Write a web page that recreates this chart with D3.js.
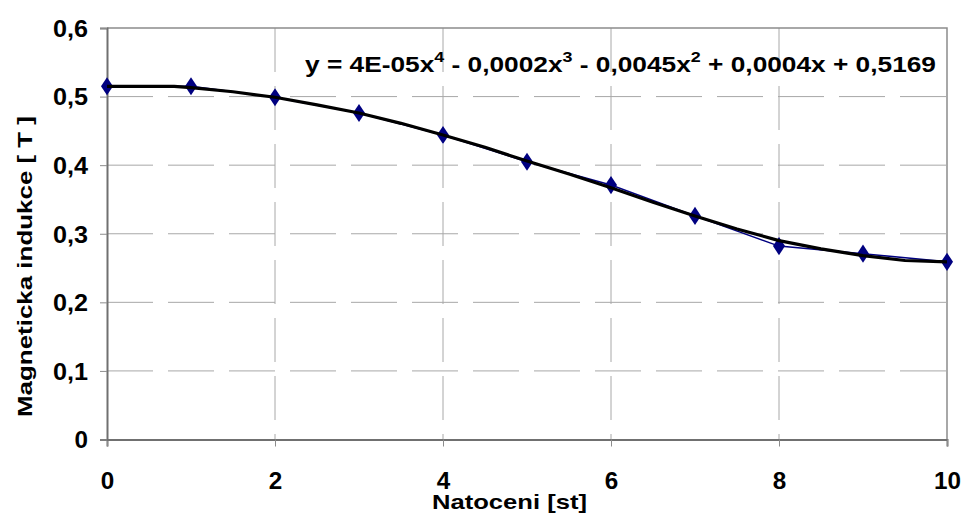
<!DOCTYPE html>
<html>
<head>
<meta charset="utf-8">
<script src="https://cdn.jsdelivr.net/npm/d3@7"></script>
<style>
  body { margin: 0; background: #fff; }
  text { font-family: "Liberation Sans", Arial, sans-serif; font-weight: bold; fill: #000; }
</style>
</head>
<body>
<div id="container"></div>
<script>
"use strict";

const width = 961;
const height = 518;

// measured values
const angles = [0, 1, 2, 3, 4, 5, 6, 7, 8, 9, 10];
const induction = [0.515, 0.515, 0.499, 0.476, 0.444, 0.405, 0.371, 0.326, 0.282, 0.271, 0.259];

// polynomial trendline
const trendX = [0, 0.5, 0.8, 1, 1.5, 2, 2.5, 3, 3.5, 4, 4.5, 5, 5.5, 6, 6.5, 7, 7.5, 8, 8.5, 9, 9.5, 10];
const trendY = [0.515, 0.515, 0.515, 0.513, 0.507, 0.499, 0.488, 0.476, 0.461, 0.444, 0.426, 0.406, 0.387, 0.367, 0.346, 0.326, 0.307, 0.290, 0.278, 0.268, 0.261, 0.259];

const xTicks = [0, 2, 4, 6, 8, 10];
const yTicks = [0, 0.1, 0.2, 0.3, 0.4, 0.5, 0.6];

const margin = { left: 107, right: 14, top: 28, bottom: 78.5 };

const x = d3.scaleLinear().domain([0, 10]).range([margin.left, width - margin.right]);
const y = d3.scaleLinear().domain([0, 0.6]).range([height - margin.bottom, margin.top]);

const fmt = v => v === 0 ? "0" : d3.format(".1f")(v).replace(".", ",");

const svg = d3.select("#container").append("svg")
    .attr("width", width)
    .attr("height", height);

// grid lines (dashed)
svg.append("g").selectAll("line")
    .data(yTicks.filter(v => v > 0 && v < 0.6))
    .enter().append("line")
    .attr("x1", x(0)).attr("x2", x(10))
    .attr("y1", d => y(d)).attr("y2", d => y(d))
    .style("stroke", "#a8a8a8")
    .style("stroke-width", 1)
    .style("stroke-dasharray", "46,15");

svg.append("g").selectAll("line")
    .data(xTicks.filter(v => v > 0 && v < 10))
    .enter().append("line")
    .attr("y1", y(0.6)).attr("y2", y(0))
    .attr("x1", d => x(d)).attr("x2", d => x(d))
    .style("stroke", "#a8a8a8")
    .style("stroke-width", 1)
    .style("stroke-dasharray", "44,14");

// plot frame: top + right
svg.append("path")
    .attr("d", `M${x(0)},${y(0.6)}H${x(10)}V${y(0)}`)
    .style("fill", "none")
    .style("stroke", "#8c8c8c")
    .style("stroke-width", 1.5);

// axes
const xAxis = d3.axisBottom(x).tickValues(xTicks).tickSize(7).tickFormat(d => d);
const yAxis = d3.axisLeft(y).tickValues(yTicks).tickSize(7).tickFormat(fmt);

const gx = svg.append("g").attr("transform", `translate(0,${y(0)})`).call(xAxis);
const gy = svg.append("g").attr("transform", `translate(${x(0)},0)`).call(yAxis);

// label width in the original: ~13.5px per digit, ~8px per comma
const labelWidth = s => s.split("").reduce((a, c) => a + (c === "," ? 8 : 13.5), 0);

[gx, gy].forEach(g => {
    g.attr("font-size", 23).attr("font-family", null);
    g.select(".domain").style("stroke", "#707070").style("stroke-width", 2);
    g.selectAll(".tick line").style("stroke", "#8c8c8c").style("stroke-width", 1);
    g.selectAll(".tick text")
        .style("font-size", "23px")
        .style("fill", "#000")
        .attr("textLength", function() { return labelWidth(this.textContent); })
        .attr("lengthAdjust", "spacingAndGlyphs");
});
gx.selectAll(".tick text").attr("y", 49).attr("dy", null);
gy.selectAll(".tick text").attr("x", -19).attr("dy", "0.36em");

// measured series (navy line + diamonds)
const line = d3.line().x((d, i) => x(angles[i])).y(d => y(d));
svg.append("path")
    .datum(induction)
    .attr("d", line)
    .style("fill", "none")
    .style("stroke", "#000080")
    .style("stroke-width", 1.5);

const diamond = d3.symbol().type(d3.symbolDiamond).size(95);
svg.append("g").selectAll("path")
    .data(induction)
    .enter().append("path")
    .attr("d", diamond)
    .attr("transform", (d, i) => `translate(${x(angles[i])},${y(d)}) scale(1.15,1)`)
    .style("fill", "#000080");

// trendline
const trend = d3.line().x((d, i) => x(trendX[i])).y(d => y(d));
svg.append("path")
    .datum(trendY)
    .attr("d", trend)
    .style("fill", "none")
    .style("stroke", "#000")
    .style("stroke-width", 3.2)
    .style("stroke-linejoin", "round");

// trendline equation
const eq = svg.append("text")
    .attr("x", 305).attr("y", 72)
    .attr("textLength", 631)
    .attr("lengthAdjust", "spacingAndGlyphs")
    .style("font-size", "22px");
const parts = [["y = 4E-05x", "4"], [" - 0,0002x", "3"], [" - 0,0045x", "2"], [" + 0,0004x + 0,5169", null]];
let raised = false;
parts.forEach(p => {
    eq.append("tspan").attr("dy", raised ? 10 : null).text(p[0]);
    raised = false;
    if (p[1]) {
        eq.append("tspan").attr("dy", -10).style("font-size", "15px").text(p[1]);
        raised = true;
    }
});

// axis titles
svg.append("text")
    .attr("x", 432).attr("y", 509)
    .attr("textLength", 155)
    .attr("lengthAdjust", "spacingAndGlyphs")
    .style("font-size", "21px")
    .text("Natoceni [st]");

svg.append("text")
    .attr("transform", "translate(32,417) rotate(-90)")
    .attr("textLength", 301)
    .attr("lengthAdjust", "spacingAndGlyphs")
    .style("font-size", "21px")
    .text("Magneticka indukce [ T ]");
</script>
</body>
</html>
